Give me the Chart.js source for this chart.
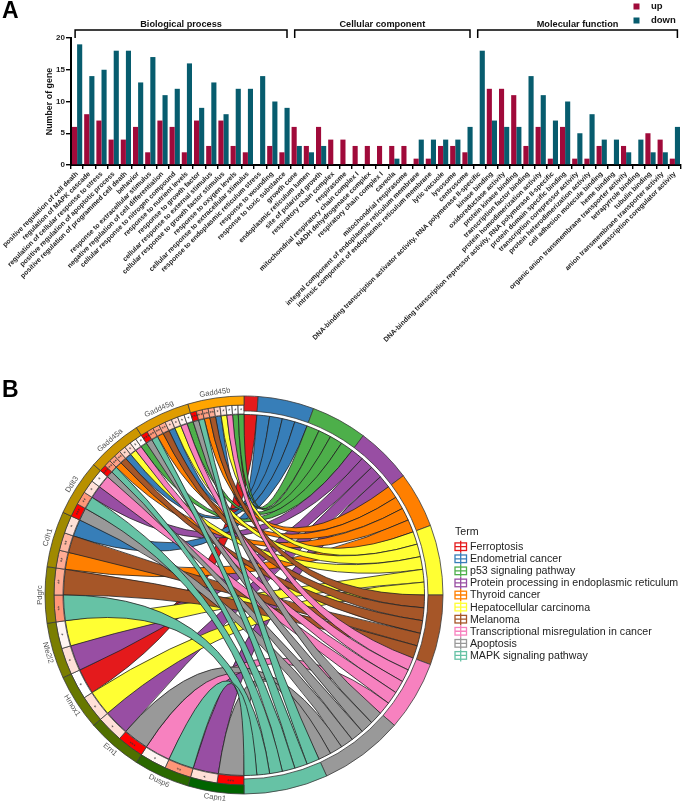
<!DOCTYPE html>
<html>
<head>
<meta charset="utf-8">
<title>GO and KEGG enrichment</title>
<script src="https://cdn.jsdelivr.net/npm/chart.js@4"></script>
<style>
  html, body { margin: 0; background: #fff; overflow: hidden; }
  #page { position: relative; width: 685px; height: 801px; font-family: "Liberation Sans", Arial, sans-serif; }
  canvas { position: absolute; left: 0; }
  #barChart { top: 0; }
  #chordChart { top: 345px; }
  .panel { position: absolute; left: 2px; font-weight: bold; font-size: 23px; line-height: 23px; color: #000; }
</style>
</head>
<body>
<div id="page">
  <canvas id="barChart" width="685" height="345"></canvas>
  <canvas id="chordChart" width="685" height="456"></canvas>
  <div class="panel" style="top:-1px">A</div>
  <div class="panel" style="top:378px">B</div>
</div>
<script>
// panel A
const goTerms = [
  'positive regulation of cell death', 'regulation of MAPK cascade', 'regulation of cellular response to stress',
  'positive regulation of apoptotic process', 'positive regulation of programmed cell death', 'behavior',
  'response to extracellular stimulus', 'negative regulation of cell differentiation', 'cellular response to nitrogen compound',
  'response to nutrient levels', 'response to growth factor', 'cellular response to external stimulus',
  'cellular response to growth factor stimulus', 'response to oxygen levels', 'cellular response to extracellular stimulus',
  'response to endoplasmic reticulum stress', 'response to wounding', 'response to toxic substance',
  'growth cone', 'endoplasmic reticulum lumen', 'site of polarized growth', 'respiratory chain complex', 'respirasome',
  'mitochondrial respiratory chain complex I', 'NADH dehydrogenase complex', 'respiratory chain complex I', 'caveola',
  'mitochondrial respirasome', 'integral component of endoplasmic reticulum membrane',
  'intrinsic component of endoplasmic reticulum membrane', 'lytic vacuole', 'lysosome', 'centrosome',
  'DNA-binding transcription activator activity, RNA polymerase II-specific', 'kinase binding', 'oxidoreductase activity',
  'protein kinase binding', 'transcription factor binding', 'protein homodimerization activity',
  'DNA-binding transcription repressor activity, RNA polymerase II-specific', 'protein domain specific binding',
  'transcription corepressor activity', 'protein heterodimerization activity', 'cell adhesion molecule binding', 'heme binding',
  'organic anion transmembrane transporter activity', 'tetrapyrrole binding', 'tubulin binding',
  'anion transmembrane transporter activity', 'transcription coregulator activity'
];
const upCounts = [6, 8, 7, 4, 4, 6, 2, 7, 6, 2, 7, 3, 7, 3, 2, 0, 3, 2,
  6, 3, 6, 4, 4, 3, 3, 3, 3, 3, 1, 1, 3, 3, 2,
  0, 12, 12, 11, 3, 6, 1, 6, 1, 1, 3, 0, 3, 0, 5, 4, 1];
const downCounts = [19, 14, 15, 18, 18, 13, 17, 11, 12, 16, 9, 13, 8, 12, 12, 14, 10, 9,
  3, 2, 3, 0, 0, 0, 0, 0, 1, 0, 4, 4, 4, 4, 6,
  18, 7, 6, 6, 14, 11, 7, 10, 5, 8, 4, 4, 2, 4, 2, 2, 6];
const goGroups = ['Biological process', 'Cellular component', 'Molecular function'];
const goGroupSizes = [18, 15, 17];
const yTicks = [0, 5, 10, 15, 20];

// panel B
const terms = ['Ferroptosis', 'Endometrial cancer', 'p53 signaling pathway', 'Protein processing in endoplasmic reticulum',
  'Thyroid cancer', 'Hepatocellular carcinoma', 'Melanoma', 'Transcriptional misregulation in cancer', 'Apoptosis', 'MAPK signaling pathway'];
const genes = ['Capn1', 'Dusp6', 'Ern1', 'Hmox1', 'Nfe2l2', 'Pdgfc', 'Cdh1', 'Ddit3', 'Gadd45a', 'Gadd45g', 'Gadd45b'];
// which terms each gene links to, going clockwise round its sector
const geneTerms = [[8, 3], [9, 7], [8, 3], [5, 0], [3, 5], [9, 6], [4, 6, 1], [8, 9, 3, 7],
  [8, 9, 4, 6, 1, 5, 7, 2], [8, 9, 4, 6, 1, 5, 7, 2], [8, 9, 4, 6, 1, 5, 7, 2, 2]];
const geneStars = [[3, 1], [2, 1], [3, 1], [1, 1], [1, 1], [2, 2], [2, 2, 1], [3, 2, 1, 1],
  [3, 2, 2, 2, 1, 1, 1, 1], [3, 2, 2, 2, 1, 1, 1, 1], [3, 2, 2, 2, 1, 1, 1, 1, 1]];
const geneSig = [[1, .15], [.5, .05], [1, .15], [.15, 0], [.15, .05], [.5, .4], [.4, .35, .15], [1, .5, .15, .05],
  [1, .5, .45, .4, .2, .15, .05, 0], [1, .5, .45, .4, .2, .15, .05, 0], [1, .5, .45, .4, .2, .1, 0, 0, 0]];

const termColors = ['#e41a1c', '#377eb8', '#4daf4a', '#984ea3', '#ff7f00', '#ffff33', '#a65628', '#f781bf', '#999999', '#66c2a5'];
const geneColors = ['#006400', '#2a6800', '#507000', '#687800', '#7a7e00', '#8c8400', '#a08a00', '#b89000', '#cc9600', '#e09c00', '#ffa500'];

const font = '"Liberation Sans", Arial, sans-serif';

// bracket + group name over each GO category, and the up/down key
const goDecor = {
  id: 'goDecor',
  afterDraw(chart) {
    const ctx = chart.ctx, x = chart.scales.x;
    ctx.save();
    ctx.strokeStyle = '#000';
    ctx.lineWidth = 1.5;
    ctx.fillStyle = '#111';
    ctx.font = 'bold 9.2px ' + font;
    ctx.textAlign = 'center';
    let start = 0;
    goGroups.forEach((name, i) => {
      const left = x.getPixelForTick(start) - 2;
      const right = x.getPixelForTick(start + goGroupSizes[i] - 1) + 2.5;
      ctx.beginPath();
      ctx.moveTo(left, 38);
      ctx.lineTo(left, 30);
      ctx.lineTo(right, 30);
      ctx.lineTo(right, 38);
      ctx.stroke();
      ctx.fillText(name, (left + right) / 2, 27);
      start += goGroupSizes[i];
    });
    ctx.textAlign = 'left';
    ctx.textBaseline = 'middle';
    ctx.font = 'bold 9.5px ' + font;
    chart.data.datasets.forEach((ds, i) => {
      const y = 6.5 + i * 14;
      ctx.fillStyle = ds.backgroundColor;
      ctx.fillRect(633.5, y - 3, 6, 6);
      ctx.fillStyle = '#111';
      ctx.fillText(ds.label, 651, y);
    });
    ctx.restore();
  }
};

new Chart(document.getElementById('barChart'), {
  type: 'bar',
  data: {
    labels: goTerms,
    datasets: [
      { label: 'up', data: upCounts, backgroundColor: '#a00a3a', categoryPercentage: 0.84, barPercentage: 1 },
      { label: 'down', data: downCounts, backgroundColor: '#075c6e', categoryPercentage: 0.84, barPercentage: 1 }
    ]
  },
  options: {
    responsive: false,
    animation: false,
    events: [],
    layout: { padding: { left: 44, right: 4, top: 38, bottom: 0 } },
    plugins: { legend: { display: false }, tooltip: { enabled: false } },
    scales: {
      x: {
        border: { color: '#000', width: 2 },
        grid: { drawOnChartArea: false, color: '#000', lineWidth: 1.4, tickLength: 4 },
        ticks: {
          autoSkip: false, minRotation: 45, maxRotation: 45, padding: 1,
          color: '#222', font: { size: 6.9, weight: 'bold', family: font }
        },
        afterFit(scale) { scale.height = 180; scale.paddingLeft = 0; scale.paddingRight = 0; }
      },
      y: {
        min: 0, max: 20,
        afterBuildTicks(scale) { scale.ticks = yTicks.map(v => ({ value: v })); },
        border: { color: '#000', width: 2 },
        grid: { drawOnChartArea: false, color: '#000', lineWidth: 1.4, tickLength: 5 },
        ticks: { padding: 1, color: '#222', font: { size: 8, weight: 'bold', family: font } },
        title: { display: true, text: 'Number of gene', color: '#111', padding: 0, font: { size: 8.9, weight: 'bold', family: font } },
        afterFit(scale) { scale.width = 27; scale.paddingTop = 0; scale.paddingBottom = 0; }
      }
    }
  },
  plugins: [goDecor]
});

// ---- chord diagram ----
// right half: one slice per link, inside each term the topmost gene comes first
const termCounts = terms.map((t, i) => geneTerms.flat().filter(k => k === i).length);
const linkTotal = termCounts.reduce((a, b) => a + b, 0);
const geneWeight = linkTotal / genes.length;

function sigColor(s) {
  // white -> salmon -> red
  const g = s < .5 ? 255 - 210 * s : 300 - 300 * s;
  const b = s < .5 ? 255 - 270 * s : 240 - 240 * s;
  return `rgb(255,${Math.round(g)},${Math.round(b)})`;
}

const linkSlices = [], linkColors = [];
termCounts.forEach(n => { for (let i = 0; i < n; i++) { linkSlices.push(1); linkColors.push('rgba(0,0,0,0)'); } });
const cellSlices = geneTerms.flatMap(list => list.map(() => geneWeight / list.length));
const cellColors = geneSig.flat().map(sigColor);

const OUTER = 199, GENE_IN = 190, TERM_IN = 184, CELL_IN = 181, LINK_R = 180.5;

const chordPlugin = {
  id: 'chordPlugin',
  afterDatasetsUpdate(chart) {
    const sectors = chart.getDatasetMeta(0).data, cells = chart.getDatasetMeta(1).data;
    sectors.forEach((arc, i) => {
      arc.outerRadius = OUTER;
      arc.innerRadius = i < terms.length ? TERM_IN : GENE_IN;
    });
    cells.forEach(arc => { arc.outerRadius = GENE_IN; arc.innerRadius = CELL_IN; });
  },
  // links go under the rings
  beforeDatasetsDraw(chart) {
    const ctx = chart.ctx;
    const cells = chart.getDatasetMeta(1).data;
    const cx = cells[0].x, cy = cells[0].y;
    const at = (a, r) => [cx + r * Math.cos(a), cy + r * Math.sin(a)];

    // next free slice of each term
    const next = [];
    let pos = 0;
    termCounts.forEach(n => { next.push(pos); pos += n; });

    // pair up each gene cell with a term slice, gene nearest the top first
    const links = [];
    const flatOffset = [];
    let off = linkTotal;
    geneTerms.forEach(list => { flatOffset.push(off); off += list.length; });
    for (let g = genes.length - 1; g >= 0; g--) {
      geneTerms[g].forEach((t, k) => {
        links.push({ term: t, cell: cells[flatOffset[g] + k], slice: cells[next[t]++] });
      });
    }
    links.sort((a, b) => a.term - b.term);

    ctx.save();
    ctx.lineWidth = 0.8;
    ctx.strokeStyle = '#222';
    links.forEach(l => {
      const p = l.slice, c = l.cell;
      ctx.beginPath();
      ctx.moveTo(...at(p.startAngle, LINK_R));
      ctx.arc(cx, cy, LINK_R, p.startAngle, p.endAngle);
      ctx.quadraticCurveTo(cx, cy, ...at(c.startAngle, LINK_R));
      ctx.arc(cx, cy, LINK_R, c.startAngle, c.endAngle);
      ctx.quadraticCurveTo(cx, cy, ...at(p.startAngle, LINK_R));
      ctx.closePath();
      ctx.fillStyle = termColors[l.term];
      ctx.fill();
      ctx.stroke();
    });
    ctx.restore();
  },
  afterDatasetsDraw(chart) {
    const ctx = chart.ctx;
    const sectors = chart.getDatasetMeta(0).data, cells = chart.getDatasetMeta(1).data;
    const cx = cells[0].x, cy = cells[0].y;
    ctx.save();

    // stars in the cells
    ctx.fillStyle = '#333';
    ctx.font = '6px ' + font;
    ctx.textAlign = 'center';
    ctx.textBaseline = 'middle';
    geneStars.flat().forEach((n, i) => {
      const arc = cells[linkTotal + i], a = (arc.startAngle + arc.endAngle) / 2;
      ctx.save();
      ctx.translate(cx + 185.5 * Math.cos(a), cy + 185.5 * Math.sin(a));
      ctx.rotate(a + Math.PI / 2);
      ctx.fillText('*'.repeat(n), 0, 1);
      ctx.restore();
    });

    // gene names follow the ring
    ctx.fillStyle = '#555';
    ctx.font = '7.6px ' + font;
    genes.forEach((name, i) => {
      const arc = sectors[terms.length + i], a = (arc.startAngle + arc.endAngle) / 2;
      const upper = Math.sin(a) < 0.02;
      ctx.save();
      ctx.translate(cx + 204.5 * Math.cos(a), cy + 204.5 * Math.sin(a));
      ctx.rotate(upper ? a + Math.PI / 2 : a - Math.PI / 2);
      ctx.fillText(name, 0, 0);
      ctx.restore();
    });

    // term key
    ctx.textAlign = 'left';
    ctx.fillStyle = '#222';
    ctx.font = '10.65px ' + font;
    ctx.fillText('Term', 455, 187);
    terms.forEach((name, i) => {
      const y = 201.7 + i * 12.08;
      ctx.strokeStyle = termColors[i];
      ctx.lineWidth = 1.3;
      ctx.strokeRect(455, y - 3.8, 11.5, 7.6);
      ctx.beginPath();
      ctx.moveTo(455, y);
      ctx.lineTo(466.5, y);
      ctx.moveTo(460.7, y - 6);
      ctx.lineTo(460.7, y + 6);
      ctx.stroke();
      ctx.fillStyle = '#222';
      ctx.fillText(name, 470, y + 0.5);
    });
    ctx.restore();
  }
};

new Chart(document.getElementById('chordChart'), {
  type: 'doughnut',
  data: {
    labels: [...terms, ...genes],
    datasets: [
      {
        data: [...termCounts, ...genes.map(() => geneWeight)],
        backgroundColor: [...termColors, ...geneColors],
        borderColor: '#3a3a3a',
        borderWidth: 0.8
      },
      {
        data: [...linkSlices, ...cellSlices],
        backgroundColor: [...linkColors, ...cellColors],
        borderColor: [...linkColors, ...cellColors.map(() => '#3a3a3a')],
        borderWidth: 0.8
      }
    ]
  },
  options: {
    responsive: false,
    animation: false,
    events: [],
    rotation: 0,
    layout: { padding: { left: 45, right: 242, top: 51, bottom: 7 } },
    plugins: { legend: { display: false }, tooltip: { enabled: false } }
  },
  plugins: [chordPlugin]
});
</script>
</body>
</html>
